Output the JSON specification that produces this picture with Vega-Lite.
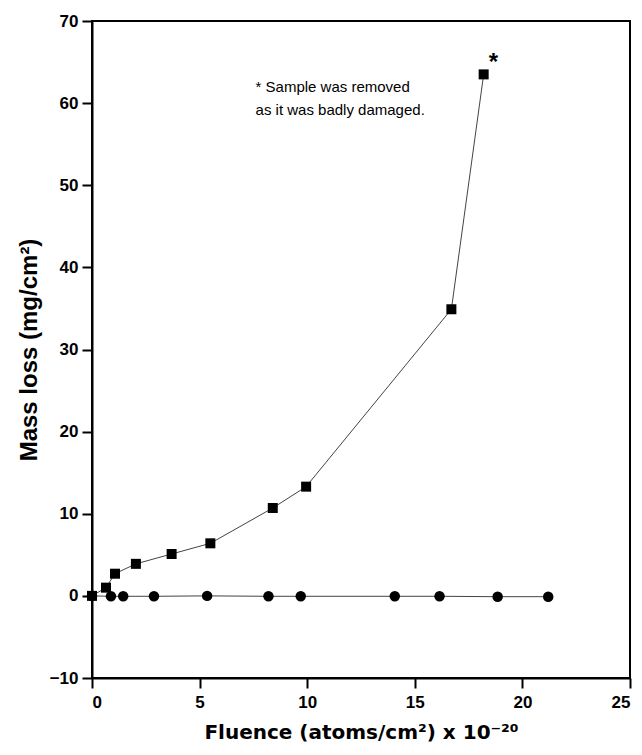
{
  "$schema": "https://vega.github.io/schema/vega-lite/v6.json",
  "width": 538,
  "height": 657,
  "autosize": {"type": "none"},
  "padding": {"left": 92, "top": 21, "right": 12, "bottom": 77},
  "background": "white",
  "config": {
    "view": {"stroke": "black", "strokeWidth": 2},
    "font": "Liberation Sans",
    "axis": {
      "domainColor": "black", "domainWidth": 2, "tickColor": "black", "tickWidth": 2,
      "tickSize": 10, "labelFont": "Liberation Sans", "labelFontWeight": "bold",
      "labelFontSize": 17, "labelColor": "black", "titleFont": "Liberation Sans",
      "titleFontWeight": "bold", "titleFontSize": 21, "titleColor": "black", "grid": false
    }
  },
  "datasets": {
    "squares": [
      {"fluence": 0, "loss": 0},
      {"fluence": 0.65, "loss": 1.0},
      {"fluence": 1.07, "loss": 2.7},
      {"fluence": 2.04, "loss": 3.9},
      {"fluence": 3.7, "loss": 5.1},
      {"fluence": 5.5, "loss": 6.4},
      {"fluence": 8.4, "loss": 10.7},
      {"fluence": 9.95, "loss": 13.3},
      {"fluence": 16.7, "loss": 34.9},
      {"fluence": 18.2, "loss": 63.5}
    ],
    "circles": [
      {"fluence": 0, "loss": 0},
      {"fluence": 0.88, "loss": -0.05},
      {"fluence": 1.45, "loss": -0.05},
      {"fluence": 2.88, "loss": -0.05},
      {"fluence": 5.35, "loss": 0},
      {"fluence": 8.2, "loss": -0.05},
      {"fluence": 9.7, "loss": -0.05},
      {"fluence": 14.07, "loss": -0.05},
      {"fluence": 16.15, "loss": -0.05},
      {"fluence": 18.85, "loss": -0.1},
      {"fluence": 21.2, "loss": -0.1}
    ],
    "notes": [
      {"fluence": 7.6, "loss": 61.3, "label": "* Sample was removed"},
      {"fluence": 7.6, "loss": 58.6, "label": "as it was badly damaged."}
    ],
    "star": [
      {"fluence": 18.65, "loss": 64.9, "label": "*"}
    ]
  },
  "layer": [
    {
      "data": {"name": "circles"},
      "mark": {"type": "line", "color": "#444", "strokeWidth": 1},
      "encoding": {
        "x": {"field": "fluence", "type": "quantitative", "scale": {"domain": [0, 25], "nice": false},
              "axis": {"values": [0, 5, 10, 15, 20, 25], "title": "Fluence (atoms/cm²) x 10⁻²⁰", "titleFont": "DejaVu Sans", "titleFontSize": 20, "labelPadding": 6, "titlePadding": 12}},
        "y": {"field": "loss", "type": "quantitative", "scale": {"domain": [-10, 70], "nice": false, "zero": false},
              "axis": {"values": [-10, 0, 10, 20, 30, 40, 50, 60, 70], "title": "Mass loss (mg/cm²)", "titleFontSize": 24, "labelPadding": 4, "titlePadding": 8}}
      }
    },
    {
      "data": {"name": "circles"},
      "mark": {"type": "point", "shape": "circle", "filled": true, "color": "black", "size": 110, "opacity": 1},
      "encoding": {
        "x": {"field": "fluence", "type": "quantitative"},
        "y": {"field": "loss", "type": "quantitative"}
      }
    },
    {
      "data": {"name": "squares"},
      "mark": {"type": "line", "color": "#444", "strokeWidth": 1},
      "encoding": {
        "x": {"field": "fluence", "type": "quantitative"},
        "y": {"field": "loss", "type": "quantitative"}
      }
    },
    {
      "data": {"name": "squares"},
      "mark": {"type": "point", "shape": "square", "filled": true, "color": "black", "size": 100, "opacity": 1},
      "encoding": {
        "x": {"field": "fluence", "type": "quantitative"},
        "y": {"field": "loss", "type": "quantitative"}
      }
    },
    {
      "data": {"name": "notes"},
      "mark": {"type": "text", "align": "left", "baseline": "alphabetic", "fontSize": 15, "font": "Liberation Sans", "color": "black"},
      "encoding": {
        "x": {"field": "fluence", "type": "quantitative"},
        "y": {"field": "loss", "type": "quantitative"},
        "text": {"field": "label"}
      }
    },
    {
      "data": {"name": "star"},
      "mark": {"type": "text", "align": "center", "baseline": "middle", "fontSize": 24, "fontWeight": "bold", "font": "Liberation Sans", "color": "black"},
      "encoding": {
        "x": {"field": "fluence", "type": "quantitative"},
        "y": {"field": "loss", "type": "quantitative"},
        "text": {"field": "label"}
      }
    }
  ]
}
